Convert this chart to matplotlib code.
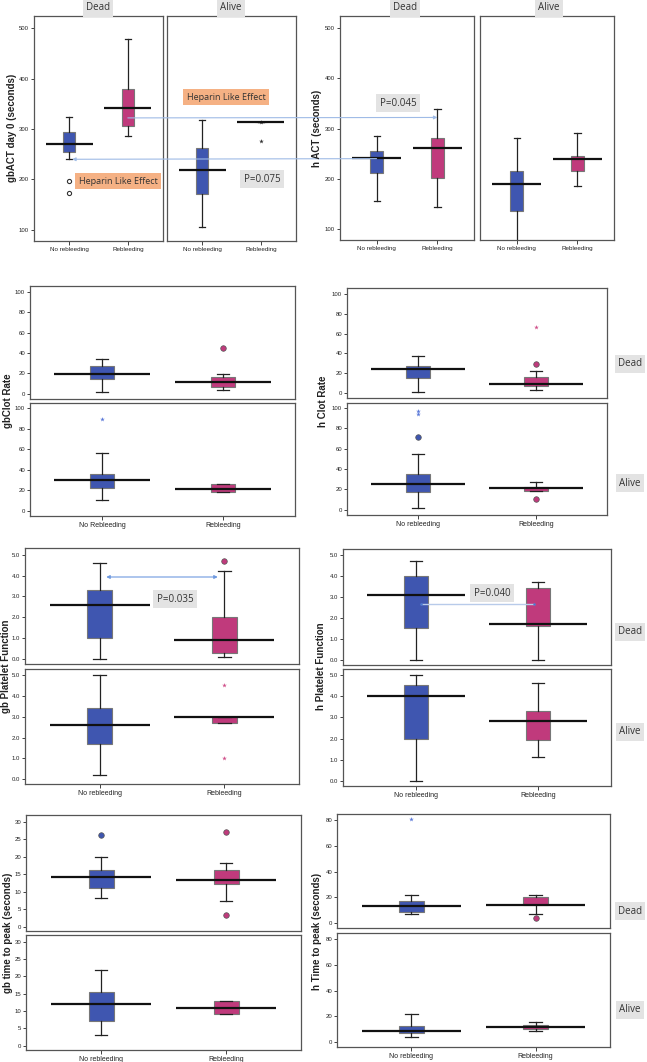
import matplotlib
matplotlib.use("Agg")
import matplotlib.pyplot as plt
from matplotlib.patches import ConnectionPatch

plt.rcParams['font.family'] = ['Liberation Sans', 'DejaVu Sans']

W, H = 647, 1062

# box stats per panel: [lower whisker, Q1, median, Q3, upper whisker]
# first entry = No rebleeding, second = Rebleeding
gb_act_dead = [[240, 255, 271, 294, 323], [286, 305, 341, 379, 479]]
gb_act_alive = [[105, 171, 219, 263, 317], [313, 313, 313, 313, 313]]
h_act_dead = [[156, 212, 241, 255, 285], [144, 201, 261, 282, 338]]
h_act_alive = [[70, 136, 189, 216, 282], [185, 215, 240, 246, 291]]

gb_clot_dead = [[1.3, 14.4, 19, 26.8, 34.6], [3.3, 6.9, 12, 16.3, 19]]
gb_clot_alive = [[10, 21.8, 30, 35.8, 56.7], [18.6, 18.6, 20.8, 25.7, 25.7]]
h_clot_dead = [[1.3, 14.7, 24, 26.7, 37], [3.3, 7.3, 9.3, 15.7, 21.7]]
h_clot_alive = [[1.3, 17.3, 25.2, 35.5, 54.5], [18.3, 18.3, 21.3, 22.6, 27.6]]

gb_plt_dead = [[0, 1.0, 2.6, 3.31, 4.62], [0.1, 0.3, 0.9, 2.01, 4.23]]
gb_plt_alive = [[0.21, 1.71, 2.6, 3.42, 5.03], [2.72, 2.72, 3.0, 3.0, 3.0]]
h_plt_dead = [[0, 1.5, 3.1, 4.01, 4.73], [0, 1.62, 1.7, 3.41, 3.71]]
h_plt_alive = [[0, 1.97, 4.01, 4.55, 5.0], [1.11, 1.91, 2.82, 3.31, 4.63]]

gb_ttp_dead = [[8.1, 11.1, 14.1, 16.1, 20], [7.2, 12.2, 13.2, 16.1, 18.1]]
gb_ttp_alive = [[3.0, 7.0, 12.1, 15.5, 21.9], [9.0, 9.0, 10.9, 13.0, 13.0]]
h_ttp_dead = [[7.2, 9.0, 13.7, 17.3, 22.2], [7.0, 13.9, 14.2, 20.1, 22.2]]
h_ttp_alive = [[3.9, 7.0, 9.1, 12.7, 22], [8.8, 10.4, 12, 13.8, 16.1]]

# outliers: (circles, stars) for No rebleeding / Rebleeding
gb_act_dead_out = ([[197, 173], []], [[], []])
gb_act_alive_out = ([[], []], [[], [314, 277]])
gb_clot_dead_out = ([[], [45]], [[], []])
gb_clot_alive_out = ([[], []], [[89], []])
h_clot_dead_out = ([[], [29]], [[], [67]])
h_clot_alive_out = ([[71.4], [11]], [[97, 94], []])
gb_plt_dead_out = ([[], [4.71]], [[], []])
gb_plt_alive_out = ([[], []], [[], [4.54, 1.02]])
gb_ttp_dead_out = ([[26.1], [27, 3.2]], [[], []])
h_ttp_dead_out = ([[], [4.4]], [[80.5], []])
no_out = ([[], []], [[], []])

colors = ['#3f56b0', '#c03a7c']
star_colors = ['#5a78d8', '#d0508a']
fig = plt.figure(figsize=(W / 100, H / 100), dpi=100)


def px(l, t, r, b):
    return [l / W, 1 - b / H, (r - l) / W, (b - t) / H]


def panel(rect, stats, outs, ylim, yticks, fmt='{:g}', xlabels=None, ylab=True, open_circ=False):
    ax = fig.add_axes(px(*rect))
    bx = []
    for s in stats:
        bx.append(dict(whislo=s[0], q1=s[1], med=s[2], q3=s[3], whishi=s[4], fliers=[]))
    res = ax.bxp(bx, positions=[0, 1], widths=0.2, patch_artist=True, showfliers=False,
                 whiskerprops=dict(color='#222222', lw=0.9), capprops=dict(color='#222222', lw=0.9),
                 medianprops=dict(lw=0), boxprops=dict(edgecolor='#777777', lw=0.8))
    for p, c in zip(res['boxes'], colors):
        p.set_facecolor(c)
    for i, s in enumerate(stats):
        ax.hlines(s[2], i - 0.4, i + 0.4, color='#111111', lw=1.6, zorder=4)
    circ, star = outs
    for i in range(2):
        if circ[i]:
            if open_circ:
                ax.plot([i] * len(circ[i]), circ[i], 'o', ms=3, mfc='white', mec='#333333', mew=0.8)
            else:
                ax.plot([i] * len(circ[i]), circ[i], 'o', ms=4, mfc=colors[i], mec='#555555', mew=0.5)
        if star[i]:
            sc = '#333333' if open_circ else star_colors[i]
            ax.plot([i] * len(star[i]), star[i], '*', ms=3.5, color=sc, mew=0)
    ax.set_xlim(-0.6, 1.6)
    ax.set_ylim(*ylim)
    for sp in ax.spines.values():
        sp.set_color('#555555')
        sp.set_linewidth(0.9)
    if ylab:
        ax.set_yticks(yticks)
        ax.set_yticklabels([fmt.format(v) for v in yticks])
        ax.tick_params(axis='y', labelsize=4.3, length=2.5, width=0.6, pad=1, colors='#222222')
    else:
        ax.set_yticks([])
    if xlabels:
        ax.set_xticks([0, 1])
        ax.set_xticklabels(xlabels)
        ax.tick_params(axis='x', labelsize=5, length=3, width=0.6, pad=1.5, colors='#222222')
    else:
        ax.set_xticks([])
    return ax


def gray_label(x, y, s, fc='#e3e3e3', size=7):
    fig.text(x / W, 1 - y / H, s, ha='center', va='center', fontsize=size, color='#333333',
             family=['Open Sans', 'DejaVu Sans'],
             bbox=dict(boxstyle='square,pad=0.35', fc=fc, ec='none'))


xl = ['No rebleeding', 'Rebleeding']
act_ticks = [100, 200, 300, 400, 500]
clot_ticks = [0, 20, 40, 60, 80, 100]
plt_ticks = [0, 1, 2, 3, 4, 5]

# row 1: ACT
a1 = panel((34, 16, 163, 241), gb_act_dead, gb_act_dead_out, (78, 524), act_ticks, xlabels=xl, open_circ=True)
a2 = panel((167, 16, 296, 241), gb_act_alive, gb_act_alive_out, (78, 524), act_ticks, xlabels=xl, ylab=False, open_circ=True)
a3 = panel((340, 16, 474, 240), h_act_dead, no_out, (78, 524), act_ticks, xlabels=xl)
a4 = panel((480, 16, 614, 240), h_act_alive, no_out, (78, 524), act_ticks, xlabels=xl, ylab=False)
for ax in (a1, a2, a3, a4):
    ax.tick_params(axis='x', labelsize=4.5)

# row 2: clot rate
b1 = panel((30, 286, 295, 399), gb_clot_dead, gb_clot_dead_out, (-5.2, 106), clot_ticks)
b2 = panel((30, 403, 295, 516), gb_clot_alive, gb_clot_alive_out, (-5.2, 105), clot_ticks,
           xlabels=['No Rebleeding', 'Rebleeding'])
b3 = panel((347, 288, 607, 398), h_clot_dead, h_clot_dead_out, (-5.2, 106), clot_ticks)
b4 = panel((347, 403, 607, 515), h_clot_alive, h_clot_alive_out, (-5.2, 105), clot_ticks, xlabels=xl)

# row 3: platelet function
c1 = panel((25, 548, 299, 664), gb_plt_dead, gb_plt_dead_out, (-0.24, 5.32), plt_ticks, fmt='{:.1f}')
c2 = panel((25, 669, 299, 784), gb_plt_alive, gb_plt_alive_out, (-0.24, 5.3), plt_ticks, fmt='{:.1f}', xlabels=xl)
c3 = panel((343, 549, 611, 665), h_plt_dead, no_out, (-0.25, 5.29), plt_ticks, fmt='{:.1f}')
c4 = panel((343, 669, 611, 786), h_plt_alive, no_out, (-0.25, 5.3), plt_ticks, fmt='{:.1f}', xlabels=xl)

# row 4: time to peak
d1 = panel((26, 815, 301, 931), gb_ttp_dead, gb_ttp_dead_out, (-1.25, 31.9), [0, 5, 10, 15, 20, 25, 30])
d2 = panel((26, 935, 301, 1050), gb_ttp_alive, no_out, (-1.25, 31.9), [0, 5, 10, 15, 20, 25, 30], xlabels=xl)
d3 = panel((337, 814, 610, 928), h_ttp_dead, h_ttp_dead_out, (-3.6, 84.6), [0, 20, 40, 60, 80])
d4 = panel((337, 933, 610, 1047), h_ttp_alive, no_out, (-3.6, 84.6), [0, 20, 40, 60, 80], xlabels=xl)

# y labels
ylabs = [(12, 128, 'gbACT day 0 (seconds)'), (317, 128, 'h ACT (seconds)'),
         (8, 401, 'gbClot Rate'), (323, 401, 'h Clot Rate'),
         (6, 666, 'gb Platelet Function'), (321, 666, 'h Platelet Function'),
         (8, 933, 'gb time to peak (seconds)'), (317, 931, 'h Time to peak (seconds)')]
for x, y, s in ylabs:
    fig.text(x / W, 1 - y / H, s, rotation=90, ha='center', va='center', fontsize=7,
             fontweight='bold', color='#222222', family=['Liberation Sans', 'DejaVu Sans'])

# facet strip labels
for x in (98, 405):
    gray_label(x, 8, 'Dead')
for x in (231, 549):
    gray_label(x, 8, 'Alive')
for y in (364, 632, 911):
    gray_label(630, y, 'Dead')
for y in (483, 732, 1010):
    gray_label(630, y, 'Alive')

# comparison arrows across panels
con1 = ConnectionPatch(xyA=(1, 322), coordsA=a1.transData, xyB=(1, 322), coordsB=a3.transData,
                       arrowstyle='-|>', color='#9fbbe6', lw=0.8, mutation_scale=5)
con2 = ConnectionPatch(xyA=(0, 240), coordsA=a3.transData, xyB=(0.05, 240), coordsB=a1.transData,
                       arrowstyle='-|>', color='#9fbbe6', lw=0.8, mutation_scale=5)
fig.add_artist(con1)
fig.add_artist(con2)
c1.annotate('', xy=(0.97, 3.93), xytext=(0.03, 3.93),
            arrowprops=dict(arrowstyle='<|-|>', color='#6f9ae0', lw=0.8, mutation_scale=5))
c3.plot([0.04, 0.97], [2.66, 2.66], color='#b8cbea', lw=1.0, marker='o', ms=1.8, mfc='#4a78d0', mec='none')

gray_label(118, 181, 'Heparin Like Effect', fc='#f5b184', size=6.5)
gray_label(226, 97, 'Heparin Like Effect', fc='#f5b184', size=6.5)
gray_label(262, 179, 'P=0.075')
gray_label(398, 103, 'P=0.045')
gray_label(175, 599, 'P=0.035')
gray_label(492, 593, 'P=0.040')

fig.savefig('out.png', dpi=100)
